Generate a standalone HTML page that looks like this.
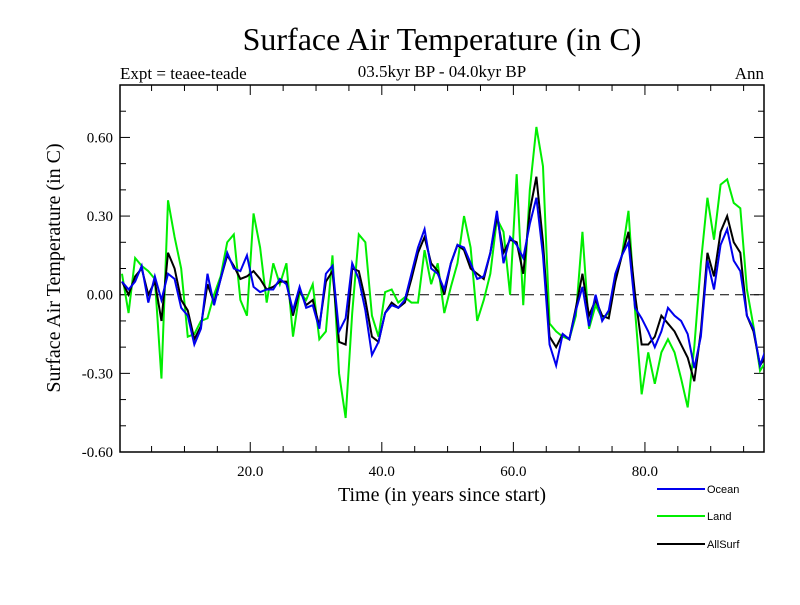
<!DOCTYPE html>
<html><head><meta charset="utf-8"><style>
body{margin:0;background:#fff}
text{font-family:"Liberation Serif",serif}
</style></head><body>
<svg id="c" width="800" height="600" xmlns="http://www.w3.org/2000/svg">
<defs><clipPath id="clip"><rect x="120" y="85" width="644" height="367"/></clipPath></defs>
<rect width="800" height="600" fill="#fff"/>
<text x="442" y="50" font-size="32" text-anchor="middle">Surface Air Temperature (in C)</text>
<text x="442" y="77" font-size="17" text-anchor="middle">03.5kyr BP - 04.0kyr BP</text>
<text x="120" y="79" font-size="17">Expt = teaee-teade</text>
<text x="764" y="79" font-size="17" text-anchor="end">Ann</text>
<text x="442" y="501" font-size="20" text-anchor="middle">Time (in years since start)</text>
<text transform="translate(60,268) rotate(-90)" font-size="20" text-anchor="middle">Surface Air Temperature (in C)</text>
<g id="axes"></g>
<g id="series" clip-path="url(#clip)"></g>
<g id="legend"></g>
</svg>
<script>
const years=[];for(let i=0;i<=98;i++)years.push(i+0.5);
const ocean=[0.05,0.02,0.05,0.11,-0.03,0.07,-0.02,0.08,0.06,-0.05,-0.08,-0.19,-0.13,0.08,-0.04,0.06,0.16,0.10,0.09,0.15,0.03,0.01,0.02,0.02,0.06,0.04,-0.06,0.03,-0.05,-0.04,-0.13,0.08,0.11,-0.14,-0.09,0.12,0.06,-0.06,-0.23,-0.18,-0.07,-0.04,-0.05,-0.02,0.08,0.18,0.25,0.10,0.08,0.02,0.12,0.19,0.18,0.12,0.06,0.07,0.16,0.32,0.12,0.22,0.19,0.14,0.27,0.37,0.15,-0.19,-0.27,-0.15,-0.17,-0.06,0.03,-0.12,0.00,-0.10,-0.06,0.08,0.15,0.20,-0.05,-0.09,-0.14,-0.20,-0.14,-0.05,-0.08,-0.10,-0.15,-0.28,-0.16,0.13,0.02,0.19,0.25,0.13,0.09,-0.08,-0.13,-0.27,-0.20];
const land=[0.08,-0.07,0.14,0.11,0.09,0.06,-0.32,0.36,0.22,0.10,-0.16,-0.15,-0.10,-0.09,0.00,0.07,0.20,0.23,-0.02,-0.08,0.31,0.18,-0.03,0.12,0.04,0.12,-0.16,0.01,-0.02,0.04,-0.17,-0.14,0.15,-0.30,-0.47,-0.07,0.23,0.20,-0.08,-0.16,0.01,0.02,-0.03,-0.01,-0.03,-0.03,0.17,0.04,0.12,-0.07,0.03,0.12,0.30,0.18,-0.10,-0.02,0.08,0.29,0.24,0.00,0.46,-0.04,0.40,0.64,0.49,-0.11,-0.14,-0.16,-0.17,-0.08,0.24,-0.13,-0.04,-0.09,-0.07,0.06,0.15,0.32,-0.06,-0.38,-0.22,-0.34,-0.22,-0.17,-0.22,-0.32,-0.43,-0.20,0.12,0.37,0.21,0.42,0.44,0.35,0.33,0.02,-0.12,-0.29,-0.25];
const allsurf=[0.05,0.00,0.07,0.10,0.00,0.05,-0.10,0.16,0.10,-0.02,-0.06,-0.17,-0.12,0.04,-0.03,0.06,0.15,0.11,0.06,0.07,0.09,0.06,0.02,0.03,0.05,0.05,-0.08,0.02,-0.04,-0.02,-0.12,0.05,0.09,-0.18,-0.19,0.10,0.09,-0.02,-0.16,-0.18,-0.07,-0.03,-0.05,-0.03,0.06,0.16,0.22,0.12,0.09,0.00,0.12,0.19,0.17,0.10,0.08,0.06,0.16,0.30,0.16,0.21,0.20,0.08,0.32,0.45,0.20,-0.16,-0.20,-0.15,-0.17,-0.05,0.08,-0.08,-0.02,-0.08,-0.09,0.05,0.15,0.24,0.00,-0.19,-0.19,-0.16,-0.08,-0.11,-0.14,-0.19,-0.24,-0.33,-0.14,0.16,0.07,0.24,0.30,0.20,0.16,-0.08,-0.14,-0.27,-0.23];
const yTickLabels=["-0.60","-0.30","0.00","0.30","0.60"];
const xTickLabels=["20.0","40.0","60.0","80.0"];
const L=120,R=764,T=85,B=452;
const X0=0.2,X1=98.1,Y0=-0.6,Y1=0.8;
const sx=v=>L+(v-X0)/(X1-X0)*(R-L);
const sy=v=>B-(v-Y0)/(Y1-Y0)*(B-T);
const NS="http://www.w3.org/2000/svg";
function mk(tag,attrs,parent){const e=document.createElementNS(NS,tag);for(const k in attrs)e.setAttribute(k,attrs[k]);parent.appendChild(e);return e;}
const ax=document.getElementById('axes');
let f=mk('rect',{x:L,y:T,width:R-L,height:B-T,fill:'none',stroke:'#000','stroke-width':1.5},ax);


for(let i=-6;i<=8;i++){const v=i/10,y=sy(v),maj=(i%3===0);
 mk('line',{x1:L,x2:L+(maj?10:6),y1:y,y2:y,stroke:'#000'},ax);
 mk('line',{x1:R,x2:R-(maj?10:6),y1:y,y2:y,stroke:'#000'},ax);}
yTickLabels.forEach(s=>{const t=mk('text',{x:L-7,y:sy(parseFloat(s))+5,'font-size':15,'text-anchor':'end'},ax);t.textContent=s;
 
 });
for(let v=5;v<=95;v+=5){const x=sx(v),maj=(v%20===0);
 mk('line',{x1:x,x2:x,y1:B,y2:B-(maj?10:6),stroke:'#000'},ax);
 mk('line',{x1:x,x2:x,y1:T,y2:T+(maj?10:6),stroke:'#000'},ax);}
xTickLabels.forEach(s=>{const t=mk('text',{x:sx(parseFloat(s)),y:B+24,'font-size':15,'text-anchor':'middle'},ax);t.textContent=s;
 
 });
const z=mk('line',{x1:L,x2:R,y1:sy(0),y2:sy(0),stroke:'#000','stroke-dasharray':'9,6'},ax);


const sg=document.getElementById('series');
function line(arr,col,name){const p=mk('polyline',{points:arr.map((v,i)=>sx(years[i])+','+sy(v)).join(' '),fill:'none',stroke:col,'stroke-width':2},sg);
 
 }
line(land,'#00ee00','land-line');
line(allsurf,'#000000','allsurf-line');
line(ocean,'#0000ee','ocean-line');
const lg=document.getElementById('legend');
[['Ocean','#0000ee',489],['Land','#00ee00',516],['AllSurf','#000',544]].forEach(([n,c,y])=>{
 const g=mk('g',{},lg);
 
 
 mk('line',{x1:657,x2:705,y1:y,y2:y,stroke:c,'stroke-width':2},g);
 const t=mk('text',{x:707,y:y+4,'font-size':11,style:'font-family:"Liberation Sans",sans-serif'},g);t.textContent=n;});
</script>
</body></html>
